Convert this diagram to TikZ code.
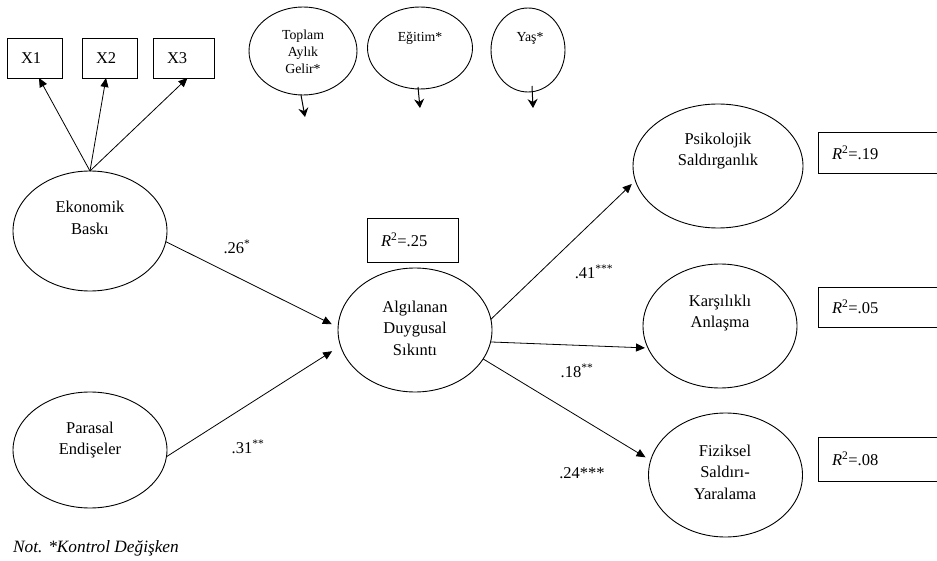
\documentclass[tikz,border=0pt]{standalone}
\usepackage{fontspec}
\setmainfont{Liberation Serif}
\usetikzlibrary{shapes.geometric,arrows.meta}
\begin{document}
\begin{tikzpicture}[x=1pt,y=-1pt,
  every node/.style={font=\fontsize{16.5}{21.5}\selectfont},
  ell/.style={draw,ellipse,line width=0.9pt,inner sep=0pt,outer sep=0pt},
  box/.style={draw,rectangle,line width=0.9pt,inner xsep=14pt,inner ysep=0pt,outer sep=0pt,align=left,anchor=north west},
  txt/.style={align=center,inner sep=0pt},
  smalltxt/.style={align=center,inner sep=0pt,font=\fontsize{13.8}{17}\selectfont},
  conn/.style={-{Triangle[length=9pt,width=8pt]},line width=0.8pt},
  ctrl/.style={-{Stealth[length=9pt,width=10pt,inset=3pt]},line width=1pt}
]
\useasboundingbox (0,0) rectangle (937,561);

% indicator boxes
\node[box,minimum width=55pt,minimum height=40pt,text width=27pt] (x1) at (7,38) {X1};
\node[box,minimum width=55pt,minimum height=40pt,text width=27pt] (x2) at (82,38) {X2};
\node[box,minimum width=61pt,minimum height=40pt,text width=33pt] (x3) at (153,38) {X3};

% R^2 boxes
\node[box,minimum width=91pt,minimum height=44pt,text width=63pt] (r25) at (367,218) {{\itshape R}\textsuperscript{2}=.25};
\node[box,minimum width=127pt,minimum height=41pt,text width=99pt] (r19) at (818,132) {{\itshape R}\textsuperscript{2}=.19};
\node[box,minimum width=127pt,minimum height=40pt,text width=99pt] (r05) at (818,287) {{\itshape R}\textsuperscript{2}=.05};
\node[box,minimum width=127pt,minimum height=44pt,text width=99pt] (r08) at (818,437) {{\itshape R}\textsuperscript{2}=.08};

% latent ellipses
\node[ell,minimum width=154pt,minimum height=120pt] (eko) at (90,231) {};
\node[ell,minimum width=154pt,minimum height=116pt] (par) at (90,450) {};
\node[ell,minimum width=154pt,minimum height=124pt] (alg) at (415,330) {};
\node[ell,minimum width=170pt,minimum height=124pt] (psi) at (718,166) {};
\node[ell,minimum width=154pt,minimum height=124pt] (kar) at (720,326) {};
\node[ell,minimum width=154pt,minimum height=124pt] (fiz) at (725.5,475) {};
\node[ell,minimum width=108pt,minimum height=88pt] (top) at (303,51) {};
\node[ell,minimum width=105pt,minimum height=82pt] (egi) at (420,48) {};
\node[ell,minimum width=74pt,minimum height=84pt] (yas) at (528,50) {};

% texts in ellipses
\node[txt] (ekoT) at (90,218) {Ekonomik\\Baskı};
\node[txt] (parT) at (90,440) {Parasal\\Endişeler};
\node[txt] (algT) at (415,328) {Algılanan\\Duygusal\\Sıkıntı};
\node[txt] (psiT) at (718,151) {Psikolojik\\Saldırganlık};
\node[txt] (karT) at (720,313) {Karşılıklı\\Anlaşma};
\node[txt] (fizT) at (725,472) {Fiziksel\\Saldırı-\\Yaralama};
\node[smalltxt] (topT) at (303,51.5) {Toplam\\Aylık\\Gelir*};
\node[smalltxt] (egiT) at (420,38) {Eğitim*};
\node[smalltxt] (yasT) at (530,38) {Yaş*};

% measurement arrows
\draw[conn] (eko.north) -- ([xshift=4.5pt]x1.south);
\draw[conn] (eko.north) -- ([xshift=-3.5pt]x2.south);
\draw[conn] (eko.north) -- ([xshift=4pt]x3.south);

% control variable arrows
\coordinate (c1) at (305,117);
\coordinate (c2) at (420,108);
\coordinate (c3) at (533,108);
\draw[ctrl] ([xshift=-2pt]top.south) -- (c1);
\draw[ctrl] ([xshift=-2pt,yshift=2pt]egi.south) -- (c2);
\draw[ctrl] ([xshift=4pt,yshift=6pt]yas.south) -- (c3);

% structural paths
\draw[conn,shorten >=7pt] (eko.-8) -- (alg.178.5);
\draw[conn,shorten >=10pt] (par.-5) -- (alg.192.5);
\draw[conn,shorten >=5pt] (alg.8) -- (psi.190.7);
\draw[conn,shorten >=3pt] (alg.-9) -- (kar.197);
\draw[conn,shorten >=6pt] (alg.-23) -- (fiz.169.4);

% coefficient labels
\node[txt] (l26) at (237,247) {.26\textsuperscript{*}};
\node[txt] (l31) at (248,447) {.31\textsuperscript{**}};
\node[txt] (l41) at (594,272) {.41\textsuperscript{***}};
\node[txt] (l18) at (577,371) {.18\textsuperscript{**}};
\node[txt] (l24) at (582,473) {.24***};

% note
\node[txt,anchor=west,font=\fontsize{17.3}{20}\selectfont\itshape] (note) at (13,548) {Not. *Kontrol Değişken};
\end{tikzpicture}
\end{document}
